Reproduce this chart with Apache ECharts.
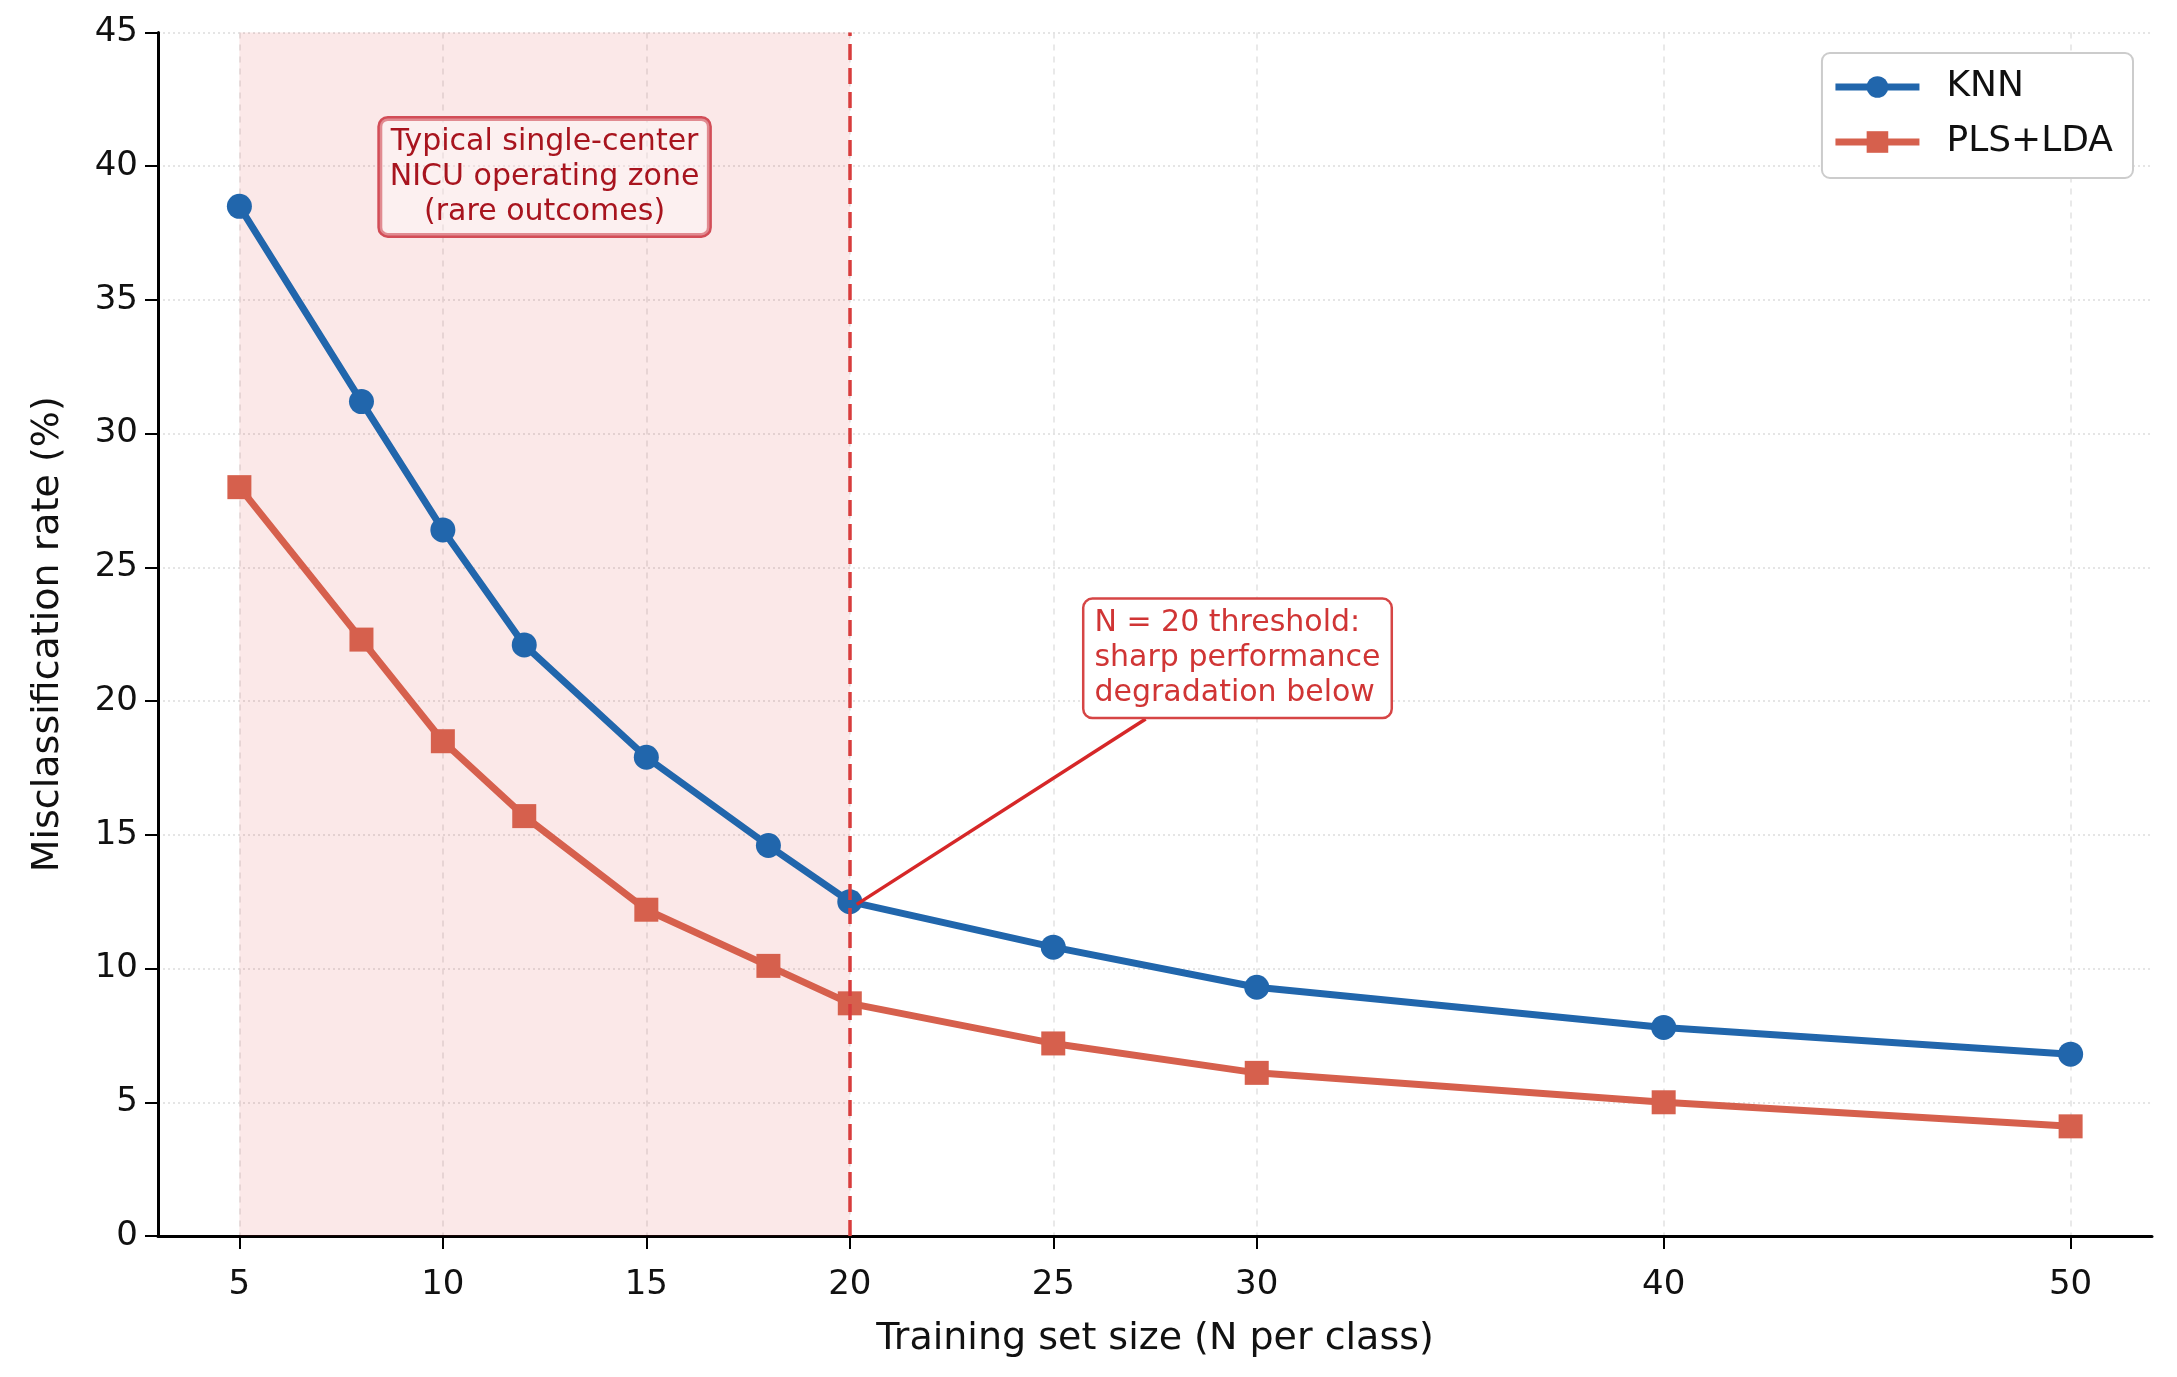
<!DOCTYPE html>
<html>
<head>
<meta charset="utf-8">
<title>Misclassification rate vs training set size</title>
<script src="https://cdn.jsdelivr.net/npm/echarts@6/dist/echarts.min.js"></script>
<style>
  html, body { margin: 0; padding: 0; background: #fff; }
  #chart { width: 2177px; height: 1377px; }
</style>
</head>
<body>
<div id="chart"></div>
<script>
// data
const trainSizes = [5, 8, 10, 12, 15, 18, 20, 25, 30, 40, 50];
const knnRates = [38.5, 31.2, 26.4, 22.1, 17.9, 14.6, 12.5, 10.8, 9.3, 7.8, 6.8];
const plsLdaRates = [28.0, 22.3, 18.5, 15.7, 12.2, 10.1, 8.7, 7.2, 6.1, 5.0, 4.1];
const xTickValues = [5, 10, 15, 20, 25, 30, 40, 50];
const seriesNames = ['KNN', 'PLS+LDA'];

// shaded zone + threshold
const zoneRange = [5, 20];
const thresholdN = 20;
const zoneText = 'Typical single-center\nNICU operating zone\n(rare outcomes)';
const thresholdText = 'N = 20 threshold:\nsharp performance\ndegradation below';

// annotation anchors, in data units
const zoneTextAt = [12.5, 39.6];
const thresholdTextAt = [26, 21.6];
const arrowFrom = [27.27, 19.33];
const arrowTo = [20.17, 12.4];

const font = 'DejaVu Sans';
const blue = '#2166ac';
const red = '#d6604d';

var myChart = echarts.init(document.getElementById('chart'));

function pairs(xs, ys) {
	return xs.map((x, i) => [x, ys[i]]);
}

var option = {
	animation: false,
	backgroundColor: '#fff',
	textStyle: { fontFamily: font },
	grid: {
		left: 158,
		right: 25,
		top: 32.5,
		bottom: 141
	},
	legend: {
		data: seriesNames,
		orient: 'vertical',
		right: 44,
		top: 53,
		padding: [16, 20, 18, 10],
		itemWidth: 84,
		itemHeight: 27,
		itemGap: 19,
		backgroundColor: '#fff',
		borderColor: '#cccccc',
		borderWidth: 2,
		borderRadius: 8,
		lineStyle: { width: 7 },
		textStyle: {
			fontFamily: font,
			fontSize: 36,
			color: '#111',
			padding: [0, 0, 0, 22]
		}
	},
	xAxis: {
		type: 'value',
		min: 3,
		max: 52,
		name: 'Training set size (N per class)',
		nameLocation: 'middle',
		nameGap: 84,
		nameTextStyle: { fontFamily: font, fontSize: 38, color: '#111' },
		axisLine: { show: true, onZero: false, lineStyle: { color: '#000', width: 3 } },
		axisTick: { show: true, length: 13, lineStyle: { color: '#000', width: 2 }, customValues: xTickValues },
		axisLabel: { fontFamily: font, fontSize: 34, color: '#111', margin: 32, customValues: xTickValues },
		splitLine: { show: true, lineStyle: { color: '#e2e2e2', width: 1.5, type: [6, 6] } }
	},
	yAxis: {
		type: 'value',
		min: 0,
		max: 45,
		interval: 5,
		name: 'Misclassification rate (%)',
		nameLocation: 'middle',
		nameGap: 91,
		nameTextStyle: { fontFamily: font, fontSize: 38, color: '#111' },
		axisLine: { show: true, lineStyle: { color: '#000', width: 3 } },
		axisTick: { show: true, length: 13, lineStyle: { color: '#000', width: 2 } },
		axisLabel: { fontFamily: font, fontSize: 34, color: '#111', margin: 20 },
		splitLine: { show: true, lineStyle: { color: '#dddddd', width: 1.5, type: [2, 3] } }
	},
	series: [
		{
			// helper series: shaded zone, threshold line
			name: 'annotations',
			type: 'line',
			data: [],
			z: 1,
			silent: true,
			markArea: {
				silent: true,
				itemStyle: { color: 'rgba(220, 50, 50, 0.11)' },
				data: [[{ xAxis: zoneRange[0], yAxis: 0 }, { xAxis: zoneRange[1], yAxis: 45 }]]
			},
			markLine: {
				silent: true,
				symbol: 'none',
				label: { show: false },
				data: [
					{ xAxis: thresholdN, lineStyle: { color: '#d83c3c', width: 3.5, type: [16, 8] } }
				]
			}
		},
		{
			name: seriesNames[0],
			type: 'line',
			z: 3,
			data: pairs(trainSizes, knnRates),
			symbol: 'circle',
			symbolSize: 25,
			lineStyle: { color: blue, width: 7 },
			itemStyle: { color: blue }
		},
		{
			name: seriesNames[1],
			type: 'line',
			z: 3,
			data: pairs(trainSizes, plsLdaRates),
			symbol: 'rect',
			symbolSize: 24,
			lineStyle: { color: red, width: 7 },
			itemStyle: { color: red }
		},
		{
			// callout boxes and arrow
			name: 'callouts',
			type: 'line',
			data: [],
			z: 5,
			silent: true,
			markLine: {
				silent: true,
				symbol: ['none', 'arrow'],
				symbolSize: [0, 22],
				label: { show: false },
				lineStyle: { color: '#d62728', width: 3.5, type: 'solid' },
				data: [[{ coord: arrowFrom }, { coord: arrowTo }]]
			},
			markPoint: {
				silent: true,
				symbol: 'rect',
				symbolSize: 1,
				itemStyle: { color: 'rgba(0,0,0,0)' },
				data: [
					{
						coord: zoneTextAt,
						label: {
							show: true,
							position: 'inside',
							formatter: zoneText,
							fontFamily: font,
							fontSize: 30,
							lineHeight: 35,
							color: '#a8141e',
							backgroundColor: 'rgba(255,255,255,0.35)',
							borderColor: '#d24d57',
							borderWidth: 2.5,
							borderRadius: 8,
							padding: [6, 10]
						}
					},
					{
						coord: thresholdTextAt,
						label: {
							show: true,
							position: 'right',
							distance: 0,
							offset: [-10, 0],
							align: 'left',
							formatter: thresholdText,
							fontFamily: font,
							fontSize: 30,
							lineHeight: 35,
							color: '#d03535',
							backgroundColor: '#fff',
							borderColor: '#d64545',
							borderWidth: 2.5,
							borderRadius: 8,
							padding: [6, 10]
						}
					}
				]
			}
		}
	]
};

myChart.setOption(option);
</script>
</body>
</html>
